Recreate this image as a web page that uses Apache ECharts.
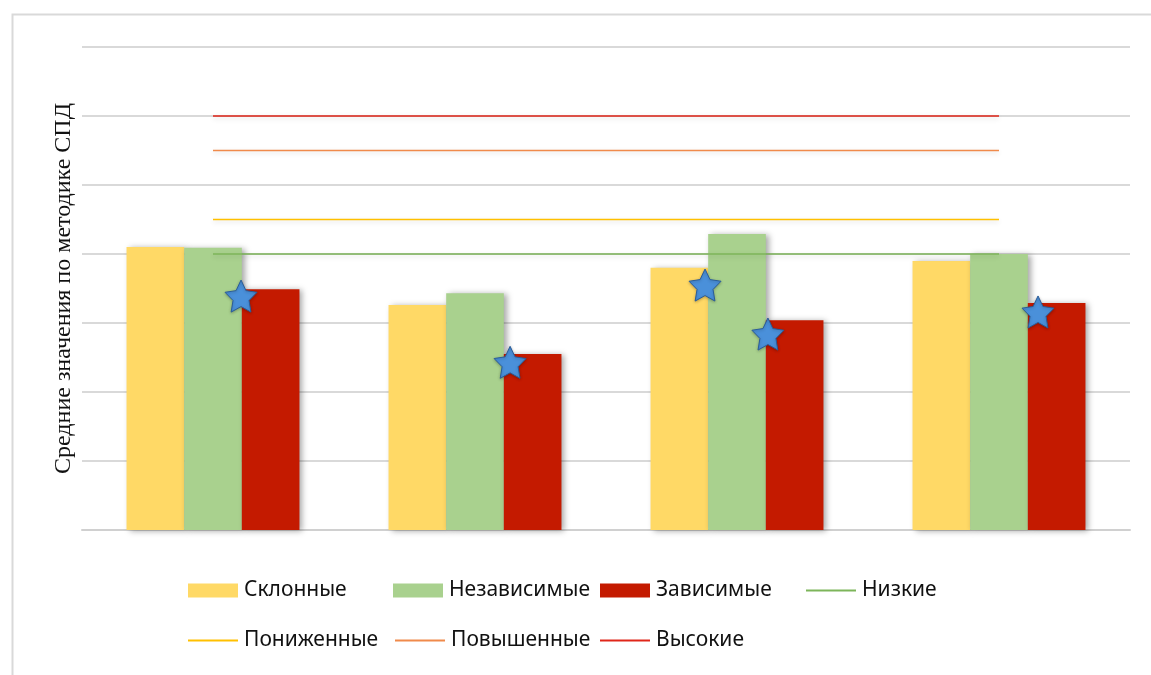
<!DOCTYPE html>
<html>
<head>
<meta charset="utf-8">
<script src="https://cdn.jsdelivr.net/npm/echarts@6/dist/echarts.min.js"></script>
<style>html,body{margin:0;padding:0;background:#fff;}#c{width:1151px;height:675px;}</style>
</head>
<body>
<div id="c"></div>
<script>
var categories = ['1', '2', '3', '4'];
var sklonnye = [4.10, 3.26, 3.80, 3.90];
var nezavisimye = [4.09, 3.43, 4.29, 4.00];
var zavisimye = [3.49, 2.55, 3.04, 3.29];
var nizkie = [4, 4, 4, 4];
var ponizhennye = [4.5, 4.5, 4.5, 4.5];
var povyshennye = [5.5, 5.5, 5.5, 5.5];
var vysokie = [6, 6, 6, 6];
var starX = [0.607, 1.634, 2.378, 2.618, 3.649];
var starY = [3.39, 2.43, 3.55, 2.84, 3.16];
var yTicks = [0, 1, 2, 3, 4, 5, 6, 7];

var starPath = 'path://M50 0 L64.7 29.8 L97.6 34.5 L73.8 57.7 L79.4 90.5 L50 75 L20.6 90.5 L26.2 57.7 L2.4 34.5 L35.3 29.8 Z';

var chart = echarts.init(document.getElementById('c'));
var barShadow = {shadowBlur: 6, shadowColor: 'rgba(0,0,0,0.35)', shadowOffsetX: 3, shadowOffsetY: 1};
var lineShadow = {shadowBlur: 5, shadowColor: 'rgba(0,0,0,0.15)', shadowOffsetY: 2};

function bar(name, data, color) {
  return {name: name, type: 'bar', data: data, barWidth: '22%', barGap: '0%',
    itemStyle: Object.assign({color: color}, barShadow), z: 2};
}
function line(name, data, color) {
  return {name: name, type: 'line', data: data, symbol: 'none', showSymbol: false, z: 3,
    itemStyle: {color: color},
    lineStyle: Object.assign({color: color, width: 1.5}, lineShadow)};
}

var legendFont = {fontFamily: 'Noto Sans', fontSize: 21, color: '#111', padding: [0, 0, 0, 1]};
var legendItems = [
  ['Склонные', 188, 580, 14], ['Независимые', 393, 580, 14], ['Зависимые', 600, 580, 14], ['Низкие', 806, 580, 2],
  ['Пониженные', 188, 630, 2], ['Повышенные', 395, 630, 2], ['Высокие', 600, 630, 2]
];
var legends = legendItems.map(function (it) {
  return {data: [{name: it[0], icon: 'rect'}], left: it[1], top: it[2], itemWidth: 50, itemHeight: it[3],
    textStyle: legendFont, selectedMode: false, padding: 0};
});

chart.setOption({
  animation: false,
  backgroundColor: '#fff',
  graphic: [{type: 'rect', left: 10, top: 12, shape: {width: 1300, height: 800},
    style: {fill: 'none', stroke: '#D9D9D9', lineWidth: 2}, z: -1}],
  legend: legends,
  grid: {left: 82, right: 21, top: 47, bottom: 145, containLabel: false},
  xAxis: [
    {type: 'category', data: categories, axisLine: {show: true, lineStyle: {color: '#D0D0D0', width: 2}},
      axisTick: {show: false}, axisLabel: {show: false}},
    {type: 'value', min: 0, max: categories.length, show: false}
  ],
  yAxis: {type: 'value', min: yTicks[0], max: yTicks[yTicks.length - 1], interval: 1,
    name: 'Средние значения по методике СПД', nameLocation: 'middle', nameGap: 6,
    nameTextStyle: {fontFamily: 'Liberation Serif', fontSize: 24, color: '#111'},
    axisLine: {show: false}, axisTick: {show: false}, axisLabel: {show: false},
    splitLine: {lineStyle: {color: '#D9D9D9', width: 2}}},
  series: [
    bar('Склонные', sklonnye, '#FFD966'),
    bar('Независимые', nezavisimye, '#A9D18E'),
    bar('Зависимые', zavisimye, '#C41A00'),
    line('Низкие', nizkie, '#7DB55A'),
    line('Пониженные', ponizhennye, '#FFC000'),
    line('Повышенные', povyshennye, '#F08A4B'),
    line('Высокие', vysokie, '#E0261A'),
    {name: 'stars', type: 'scatter', xAxisIndex: 1, z: 5,
      data: starX.map(function (x, i) { return [x, starY[i]]; }),
      symbol: starPath, symbolSize: 32,
      itemStyle: {color: '#4A90DA', borderColor: '#2A5C99', borderWidth: 1, opacity: 1,
        shadowBlur: 3, shadowColor: 'rgba(0,0,0,0.25)', shadowOffsetY: 1}}
  ]
});
</script>
</body>
</html>
